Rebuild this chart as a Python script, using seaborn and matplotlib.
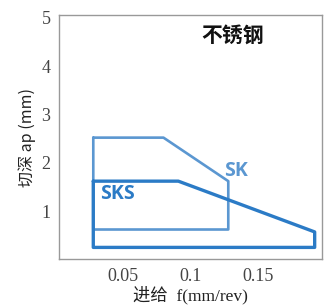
import matplotlib
matplotlib.use("Agg")
import matplotlib.pyplot as plt
import seaborn as sns
import pandas as pd

# chip-breaker application ranges (feed f, depth of cut ap)
SK_FEED = [0.028, 0.080, 0.128, 0.128, 0.028, 0.028]
SK_DEPTH = [2.52, 2.52, 1.62, 0.62, 0.62, 2.52]
SKS_FEED = [0.028, 0.091, 0.192, 0.192, 0.028, 0.028]
SKS_DEPTH = [1.62, 1.62, 0.57, 0.25, 0.25, 1.62]

X_TICKS = [0.05, 0.1, 0.15]
X_TICK_LABELS = ["0.05", "0.1", "0.15"]
Y_TICKS = [1, 2, 3, 4, 5]

SK_COLOR = "#5b97d1"
SKS_COLOR = "#2b7bc6"
CJK = ["Noto Sans CJK SC", "DejaVu Sans"]
SERIF = ["Liberation Serif", "Noto Sans CJK SC"]


def main():
    sns.set_style("white")
    plt.rcParams["font.family"] = CJK

    fig, ax = plt.subplots(figsize=(3.27, 3.06), dpi=100)
    fig.subplots_adjust(left=0.18, right=0.985, top=0.95, bottom=0.152)

    sk = pd.DataFrame({"f": SK_FEED, "ap": SK_DEPTH})
    sks = pd.DataFrame({"f": SKS_FEED, "ap": SKS_DEPTH})
    sns.lineplot(data=sk, x="f", y="ap", sort=False, estimator=None, ax=ax,
                 color=SK_COLOR, lw=1.9, solid_joinstyle="round")
    sns.lineplot(data=sks, x="f", y="ap", sort=False, estimator=None, ax=ax,
                 color=SKS_COLOR, lw=2.4, solid_joinstyle="round")

    ax.text(0.134, 1.83, "SK", color=SK_COLOR, fontsize=14, fontweight="bold",
            ha="center", va="center", family=["Open Sans"])
    ax.text(0.046, 1.35, "SKS", color=SKS_COLOR, fontsize=14, fontweight="bold",
            ha="center", va="center", family=["Open Sans"])
    ax.text(0.131, 4.64, "不锈钢", color="#111111", fontsize=15, fontweight="bold",
            ha="center", va="center")

    ax.set_xlim(0.0025, 0.1975)
    ax.set_ylim(0, 5.05)
    ax.set_xticks(X_TICKS)
    ax.set_xticklabels(X_TICK_LABELS, family=SERIF, fontsize=13, color="#444444")
    ax.set_yticks(Y_TICKS)
    ax.set_yticklabels([str(t) for t in Y_TICKS], family=SERIF, fontsize=13, color="#444444")
    ax.tick_params(length=0, pad=6)

    ax.set_xlabel("进给  f(mm/rev)", fontsize=12.5, color="#222222", labelpad=1,
                  family=SERIF)
    ax.set_ylabel("切深 ap (mm)", fontsize=11.5, color="#222222", labelpad=4)

    for spine in ax.spines.values():
        spine.set_color("#999999")
        spine.set_linewidth(1.0)

    fig.savefig("out.png", dpi=100)


if __name__ == "__main__":
    main()
